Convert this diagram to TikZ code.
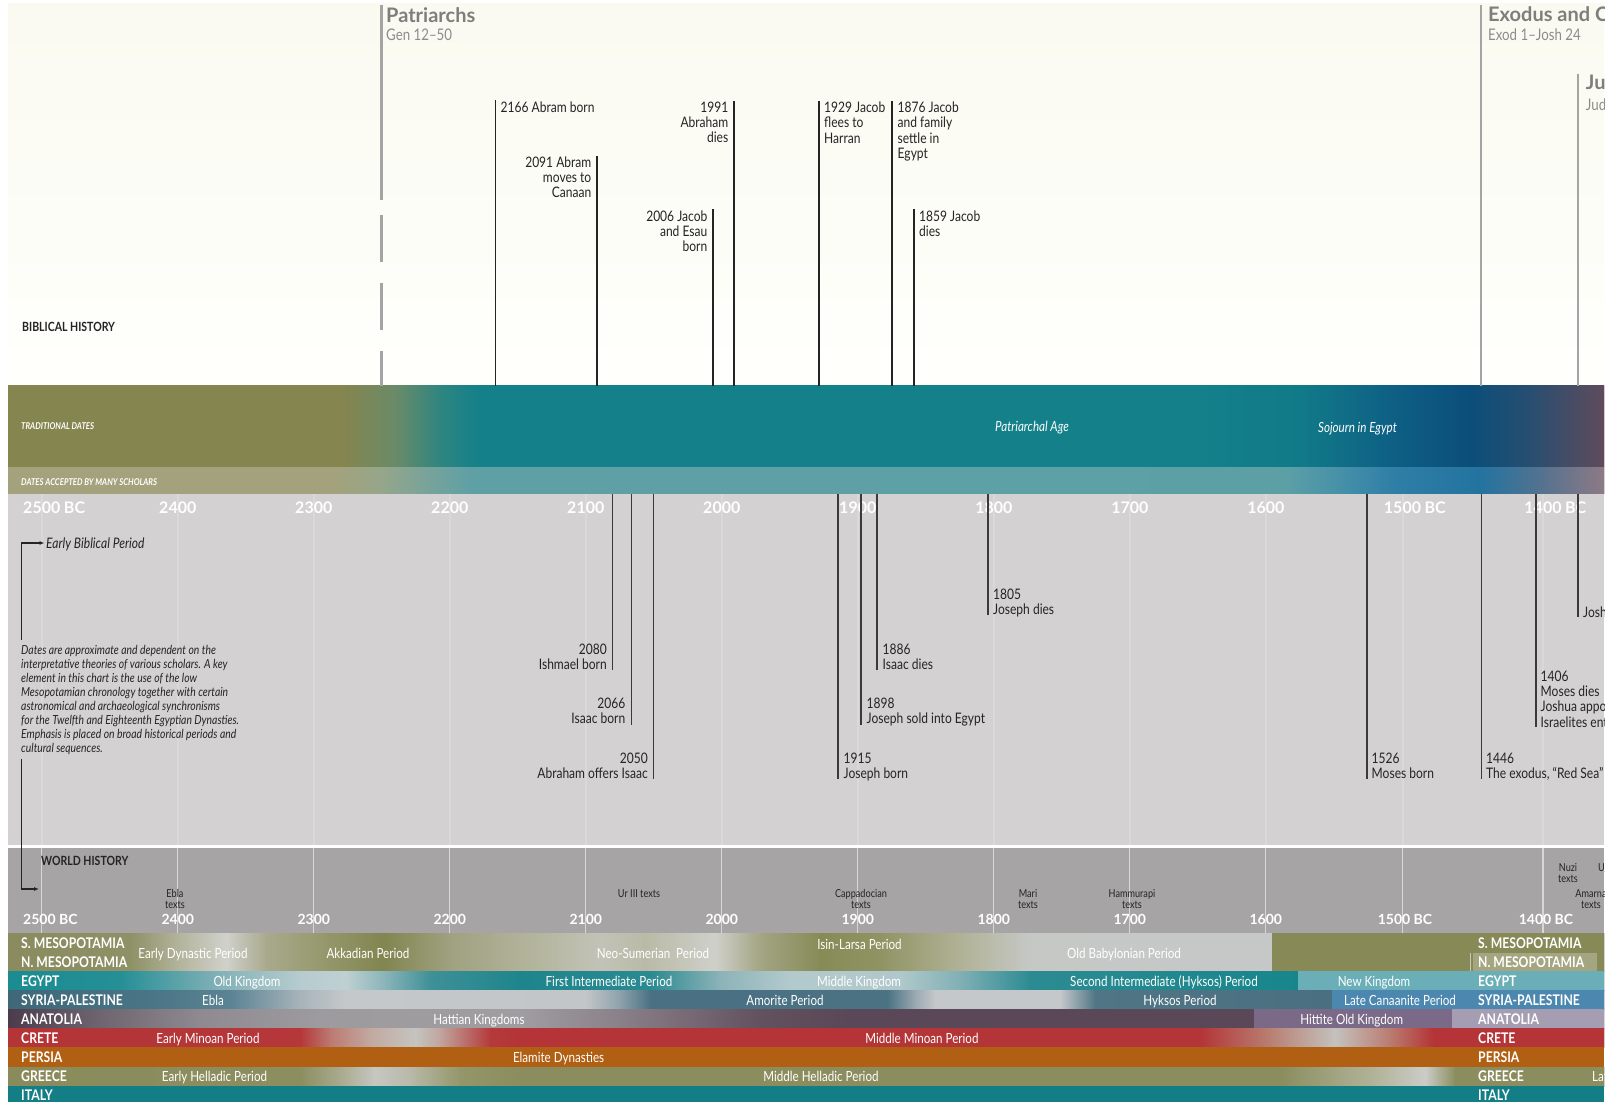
\documentclass[tikz,border=0pt]{standalone}
\usepackage{fontspec}
\setmainfont{Lato}[FakeStretch=0.83]
\newfontfamily\widefont{Lato}
\usetikzlibrary{arrows.meta}

\definecolor{ink}{HTML}{262324}
\definecolor{ruleGray}{HTML}{A4A4A4}
\definecolor{titleGray}{HTML}{7E7E7E}
\definecolor{refGray}{HTML}{8C8C8C}
\definecolor{upperGray}{HTML}{D3D1D2}
\definecolor{lowerGray}{HTML}{A6A4A5}
\definecolor{gridGray}{HTML}{D8D6D7}
\definecolor{creamTop}{HTML}{FAFAF1}
\definecolor{creamLow}{HTML}{FFFFFC}
\definecolor{persiaBrown}{HTML}{B15F12}
\definecolor{italyTeal}{HTML}{137E86}
\definecolor{nmesoBox}{HTML}{A4A581}

% one horizontal colour band, drawn as piecewise linear shadings
\newcommand\shaderow[3]{%
  \foreach \sx/\sc [remember=\sx as \px (initially -1),
                    remember=\sc as \pc (initially FFFFFF)] in {#3}{%
    \ifdim\px pt>-0.5pt
      \definecolor{segL}{HTML}{\pc}%
      \definecolor{segR}{HTML}{\sc}%
      \fill[left color=segL,right color=segR] (\px,#1) rectangle ({\sx+0.7},#2);
    \fi
  }%
}

% biblical event above the timeline: name, x, top of rule, label style, label point, text
\newcommand\upevent[6]{%
  \coordinate (#1-top) at (#2,#3);
  \coordinate (#1-foot) at (#2,385.5);
  \draw[upline] (#1-top) -- (#1-foot);
  \node[#4] (#1) at (#5) {#6};
}
% biblical event below the timeline: name, x, bottom of rule, label style, label point, text
\newcommand\downevent[6]{%
  \coordinate (#1-top) at (#2,494);
  \coordinate (#1-foot) at (#2,#3);
  \draw[downline] (#1-top) -- (#1-foot);
  \node[#4] (#1) at (#5) {#6};
}

\tikzset{
  upline/.style={draw=ink, line width=1.3pt},
  downline/.style={draw=ink!90, line width=1.6pt},
  evtext/.style={inner sep=0pt, text=ink, font=\fontsize{14.5}{15.2}\selectfont},
  evL/.style={evtext, anchor=north east, align=right},
  evR/.style={evtext, anchor=north west, align=left},
  periodrule/.style={draw=ruleGray, line width=2.8pt},
  periodtitle/.style={inner sep=0pt, anchor=base west, text=titleGray, font=\widefont\fontsize{20}{20}\selectfont\bfseries},
  periodref/.style={inner sep=0pt, anchor=base west, text=refGray, font=\fontsize{16}{16}\selectfont},
  topyear/.style={inner sep=0pt, text=white, font=\widefont\fontsize{16}{16}\selectfont\bfseries, text height=11.5pt, text depth=0pt},
  lowyear/.style={inner sep=0pt, text=white, font=\widefont\fontsize{14}{14}\selectfont\bfseries, text height=10pt, text depth=0pt},
  rowname/.style={inner sep=0pt, anchor=west, text=white, font=\fontsize{14.7}{14.7}\selectfont\bfseries, text height=10.5pt, text depth=0pt},
  era/.style={inner sep=0pt, text=white, font=\fontsize{14}{14}\selectfont, text height=10pt, text depth=0pt},
  bandcap/.style={inner sep=0pt, anchor=west, text=white, font=\fontsize{9.4}{9.4}\selectfont\bfseries\itshape, text height=6.7pt, text depth=0pt},
  agename/.style={inner sep=0pt, text=white, font=\fontsize{14}{14}\selectfont\itshape, text height=10pt, text depth=0pt},
  sectionname/.style={inner sep=0pt, anchor=west, text=ink, font=\fontsize{12.7}{12.7}\selectfont\bfseries, text height=9.1pt, text depth=0pt},
  sourcetext/.style={inner sep=0pt, anchor=north, align=center, text=ink, font=\fontsize{11}{11.5}\selectfont},
  notetext/.style={inner sep=0pt, anchor=north west, align=left, text=ink, font=\fontsize{12.5}{13.9}\selectfont\itshape},
  pointer/.style={draw=ink, line width=1.4pt, -{Latex[length=5pt,width=4pt]}},
}

\begin{document}
\begin{tikzpicture}[x=1pt,y=-1pt]
\useasboundingbox (0,0) rectangle (1612,1102);
\fill[white] (0,0) rectangle (1612,1102);

\begin{scope}
\clip (8,4) rectangle (1604,1102);

% biblical history field
\fill[top color=creamTop, bottom color=creamLow] (8,4) rectangle (1604,385.5);

% date bands
\shaderow{385.5}{467.5}{8/84854F, 345/84854F, 395/6A8B68, 440/2E8580, 480/13808A,
  1200/13808A, 1300/117A88, 1390/0E6085, 1470/0B4E7A, 1530/284E70, 1604/604B5C}
\shaderow{467.5}{494}{8/A3A27C, 335/A3A27C, 380/96A68A, 430/76A39C, 470/5FA0A5,
  1285/5CA0A6, 1340/4690A8, 1395/2E7EA6, 1480/2373A0, 1545/58728F, 1604/8E7A85}

% timeline field and world history field
\fill[upperGray] (8,494) rectangle (1604,845);
\fill[white] (8,845) rectangle (1604,847.5);
\fill[lowerGray] (8,847.5) rectangle (1604,933);
\foreach \gx in {41.8,177.8,313.8,449.8,585.8,721.8,857.8,993.8,1129.8,1265.8,1402.5,1543}{
  \draw[white, opacity=0.18, line width=2pt] (\gx,494) -- (\gx,845);
  \draw[gridGray, line width=1.3pt] (\gx,847.5) -- (\gx,933);
}

% regional period bands
\shaderow{933}{971.5}{8/8A8B5E, 130/8E9066, 180/B4B59E, 226/D0D1CB, 265/A9AA8E, 310/9A9C73,
  383/81854F, 450/A0A180, 540/B5B69F, 600/C2C3B7, 645/B9BAA6, 715/CFD0CA, 760/A3A584,
  820/868B56, 880/909463, 960/B0B296, 1030/C6C8C6, 1272/C6C8C8, 1272/878A56, 1604/878A56}
\shaderow{971}{990.5}{8/1A8C92, 120/258F96, 215/7FB0B6, 300/B6CCCF, 345/BFD0D2, 385/89B4B9,
  430/3F9097, 520/1E858D, 650/2A8A91, 720/8CB3B8, 790/B3CACD, 900/B0C8CB, 960/80B0B5,
  1030/2C8B92, 1298/17868C, 1298/6AAEB8, 1604/6AAEB8}
\shaderow{990}{1009.5}{8/3E6878, 150/4A7586, 230/5B8393, 300/A8B4BA, 345/C4C8CA, 585/C3C6C8,
  620/8CA1AB, 650/4A7183, 887/4A7283, 915/9BAAB2, 935/C4C8CA, 1060/C4C8CA, 1095/507585,
  1332/4A6F80, 1332/4C87B0, 1604/4C87B0}
\shaderow{1009}{1028.5}{8/4C3C4B, 90/6B616C, 200/8E8A90, 320/9E9B9F, 520/A09DA1, 620/8A8089,
  760/62515F, 850/5A4757, 1254/5A4757, 1254/7A6A88, 1452/7A6A88, 1452/A59EB2, 1604/A59EB2}
\shaderow{1028}{1047.5}{8/B43437, 300/B53739, 330/BC7A72, 370/C2A9A0, 415/C5C4C0, 440/C0A59E,
  490/B43A3A, 520/B43437, 1200/B43538, 1270/B88073, 1335/C4C2BE, 1390/BA7B70, 1433/B43437,
  1604/B43437}
\fill[persiaBrown] (8,1047) rectangle (1604,1067.5);
\shaderow{1067}{1086.5}{8/8A8B5B, 300/8C8E60, 345/ADAE95, 375/C6C7C1, 410/B8B9A8, 460/94966A,
  520/8B8D5E, 1280/8B8D5E, 1380/B4B69E, 1425/CBCCC8, 1455/8B8D5E, 1604/8B8D5E}
\fill[italyTeal] (8,1086) rectangle (1604,1102);
\fill[nmesoBox] (1473,952.5) rectangle (1597,971);
\draw[nmesoBox!60!white, line width=1pt] (1470,952.5) -- (1470,971);

% book divisions
\draw[periodrule] (381.5,5) -- (381.5,200);
\draw[periodrule] (381.5,215) -- (381.5,262);
\draw[periodrule] (381.5,283) -- (381.5,330);
\draw[periodrule] (381.5,351) -- (381.5,385.5);
\node[periodtitle] (patr) at (386,22.7) {Patriarchs};
\node[periodref] (patrref) at (386,40.5) {Gen 12–50};
\draw[periodrule] (1481,5) -- (1481,385.5);
\node[periodtitle] (exod) at (1488,21.7) {Exodus and Conquest};
\node[periodref] (exodref) at (1488,40.5) {Exod 1–Josh 24};
\draw[periodrule] (1578,74) -- (1578,385.5);
\node[periodtitle] (judg) at (1585.7,90) {Judges};
\node[periodref] (judgref) at (1585.7,111) {Judg};

% section headings and band captions
\node[sectionname] (bibhist) at (22,327) {BIBLICAL HISTORY};
\node[sectionname] (worldhist) at (41,861) {WORLD HISTORY};
\node[bandcap] (tradcap) at (21,426) {TRADITIONAL DATES};
\node[bandcap] (schcap) at (21,482) {DATES ACCEPTED BY MANY SCHOLARS};
\node[agename] (patage) at (1032,426) {Patriarchal Age};
\node[agename] (sojourn) at (1357.5,427) {Sojourn in Egypt};

% year scale of the timeline field
\foreach \yr/\gx in {2400/177.8, 2300/313.8, 2200/449.8, 2100/585.8, 2000/721.8,
                    1900/857.8, 1800/993.8, 1700/1129.8, 1600/1265.8}{
  \node[topyear] (ty\yr) at (\gx,508) {\yr};
}
\node[topyear] (ty2500) at (41.8,508) {2500};
\node[topyear, anchor=west] (ty2500bc) at ([xshift=3.2pt]ty2500.east) {BC};
\node[topyear] (ty1500) at (1402.5,508) {1500};
\node[topyear, anchor=west] (ty1500bc) at ([xshift=3.2pt]ty1500.east) {BC};
\node[topyear] (ty1400) at (1543,508) {1400};
\node[topyear, anchor=west] (ty1400bc) at ([xshift=3.2pt]ty1400.east) {BC};

% year scale of the world history field
\foreach \yr/\gx in {2400/177.8, 2300/313.8, 2200/449.8, 2100/585.8, 2000/721.8,
                    1900/857.8, 1800/993.8, 1700/1129.8, 1600/1265.8}{
  \node[lowyear] (ly\yr) at (\gx,919) {\yr};
}
\node[lowyear, anchor=west] (ly2500) at (23,919) {2500 BC};
\node[lowyear] (ly1500) at (1405,919) {1500 BC};
\node[lowyear] (ly1400) at (1546,919) {1400 BC};

% written sources
\node[sourcetext] (ebla) at (175,889) {Ebla\\texts};
\node[sourcetext] (ur3) at (639,889) {Ur III texts};
\node[sourcetext] (capp) at (861,889) {Cappadocian\\texts};
\node[sourcetext] (mari) at (1028,889) {Mari\\texts};
\node[sourcetext] (hamm) at (1132,889) {Hammurapi\\texts};
\node[sourcetext] (nuzi) at (1568,863) {Nuzi\\texts};
\node[sourcetext, anchor=north west] (ugar) at (1598,863) {Ugarit};
\node[sourcetext] (amar) at (1591,889) {Amarna\\texts};

% explanatory note and pointers
\node[agename, text=ink, anchor=west, font=\fontsize{14.5}{14.5}\selectfont\itshape] (ebp) at (46,543) {Early Biblical Period};
\coordinate (ebp-start) at (21.5,640);
\draw[pointer] (ebp-start) |- ([xshift=-1.5pt]ebp.west);
\node[notetext] (note) at (21,645.5) {Dates are approximate and dependent on the\\
interpretative theories of various scholars. A key\\
element in this chart is the use of the low\\
Mesopotamian chronology together with certain\\
astronomical and archaeological synchronisms\\
for the Twelfth and Eighteenth Egyptian Dynasties.\\
Emphasis is placed on broad historical periods and\\
cultural sequences.};
\coordinate (wh-start) at (21.5,759);
\coordinate (wh-tip) at (39,889);
\draw[pointer] (wh-start) |- (wh-tip);

% events above the timeline
\upevent{abram}{495.5}{100}{evR}{500.5,102}{2166 Abram born}
\upevent{canaan}{597}{156}{evL}{591.5,156.7}{2091 Abram\\moves to\\Canaan}
\upevent{twins}{713}{209}{evL}{707.5,210.7}{2006 Jacob\\and Esau\\born}
\upevent{abrdies}{734}{101}{evL}{728.5,101.8}{1991\\Abraham\\dies}
\upevent{flees}{819}{101}{evR}{824,101.8}{1929 Jacob\\flees to\\Harran}
\upevent{settle}{892}{101}{evR}{897.5,101.8}{1876 Jacob\\and family\\settle in\\Egypt}
\upevent{jacdies}{914}{209}{evR}{919,210.7}{1859 Jacob\\dies}

% events below the timeline
\downevent{ishmael}{612.5}{670}{evL}{607,643.7}{2080\\Ishmael born}
\downevent{isaac}{631.5}{725}{evL}{625.5,697.7}{2066\\Isaac born}
\downevent{offers}{653.5}{779}{evL}{648,752.7}{2050\\Abraham offers Isaac}
\downevent{josborn}{838}{779}{evR}{843.5,752.7}{1915\\Joseph born}
\downevent{sold}{861}{725}{evR}{866.5,697.7}{1898\\Joseph sold into Egypt}
\downevent{isdies}{877}{670}{evR}{882.5,643.7}{1886\\Isaac dies}
\downevent{josdies}{988}{615}{evR}{993,589}{1805\\Joseph dies}
\downevent{moses}{1367}{779}{evR}{1371.5,752.7}{1526\\Moses born}
\downevent{exodus}{1481.5}{779}{evR}{1486,752.7}{1446\\The exodus, “Red Sea”}
\downevent{mosdies}{1536}{727}{evR}{1540.5,670.7}{1406\\Moses dies\\Joshua appointed\\Israelites enter}
\downevent{joshua}{1578}{617}{evR}{1583,606.7}{Joshua}

% regions, left column
\node[rowname] (lsm) at (21,943) {S. MESOPOTAMIA};
\node[rowname] (lnm) at (21,962) {N. MESOPOTAMIA};
\node[rowname] (leg) at (21,981.5) {EGYPT};
\node[rowname] (lsp) at (21,1000.5) {SYRIA-PALESTINE};
\node[rowname] (lan) at (21,1019) {ANATOLIA};
\node[rowname] (lcr) at (21,1038) {CRETE};
\node[rowname] (lpe) at (21,1057) {PERSIA};
\node[rowname] (lgr) at (21,1076) {GREECE};
\node[rowname] (lit) at (21,1095) {ITALY};
% regions, right column
\node[rowname] (rsm) at (1478,943) {S. MESOPOTAMIA};
\node[rowname] (rnm) at (1478,962) {N. MESOPOTAMIA};
\node[rowname] (reg) at (1478,981.5) {EGYPT};
\node[rowname] (rsp) at (1478,1000.5) {SYRIA-PALESTINE};
\node[rowname] (ran) at (1478,1019) {ANATOLIA};
\node[rowname] (rcr) at (1478,1038) {CRETE};
\node[rowname] (rpe) at (1478,1057) {PERSIA};
\node[rowname] (rgr) at (1478,1076) {GREECE};
\node[rowname] (rit) at (1478,1095) {ITALY};

% cultural periods
\node[era] (m1) at (193,953) {Early Dynastic Period};
\node[era] (m2) at (368,953) {Akkadian Period};
\node[era] (m3) at (653,953) {Neo-Sumerian\ \ Period};
\node[era] (m4) at (859.5,944) {Isin-Larsa Period};
\node[era] (m5) at (1124,953) {Old Babylonian Period};
\node[era] (e1) at (247,981.5) {Old Kingdom};
\node[era] (e2) at (609,981.5) {First Intermediate Period};
\node[era] (e3) at (859,981.5) {Middle Kingdom};
\node[era] (e4) at (1164,981.5) {Second Intermediate (Hyksos) Period};
\node[era] (e5) at (1374,981.5) {New Kingdom};
\node[era] (s1) at (213,1000.5) {Ebla};
\node[era] (s2) at (785,1000.5) {Amorite Period};
\node[era] (s3) at (1180,1000.5) {Hyksos Period};
\node[era] (s4) at (1400,1000.5) {Late Canaanite Period};
\node[era] (a1) at (479,1019) {Hattian Kingdoms};
\node[era] (a2) at (1351.7,1019) {Hittite Old Kingdom};
\node[era] (c1) at (208,1038) {Early Minoan Period};
\node[era] (c2) at (922,1038) {Middle Minoan Period};
\node[era] (p1) at (558.6,1057) {Elamite Dynasties};
\node[era] (g1) at (214.5,1076) {Early Helladic Period};
\node[era] (g2) at (821,1076) {Middle Helladic Period};
\node[era, anchor=west] (g3) at (1592,1076) {Late Helladic Period};
\end{scope}
\end{tikzpicture}
\end{document}
